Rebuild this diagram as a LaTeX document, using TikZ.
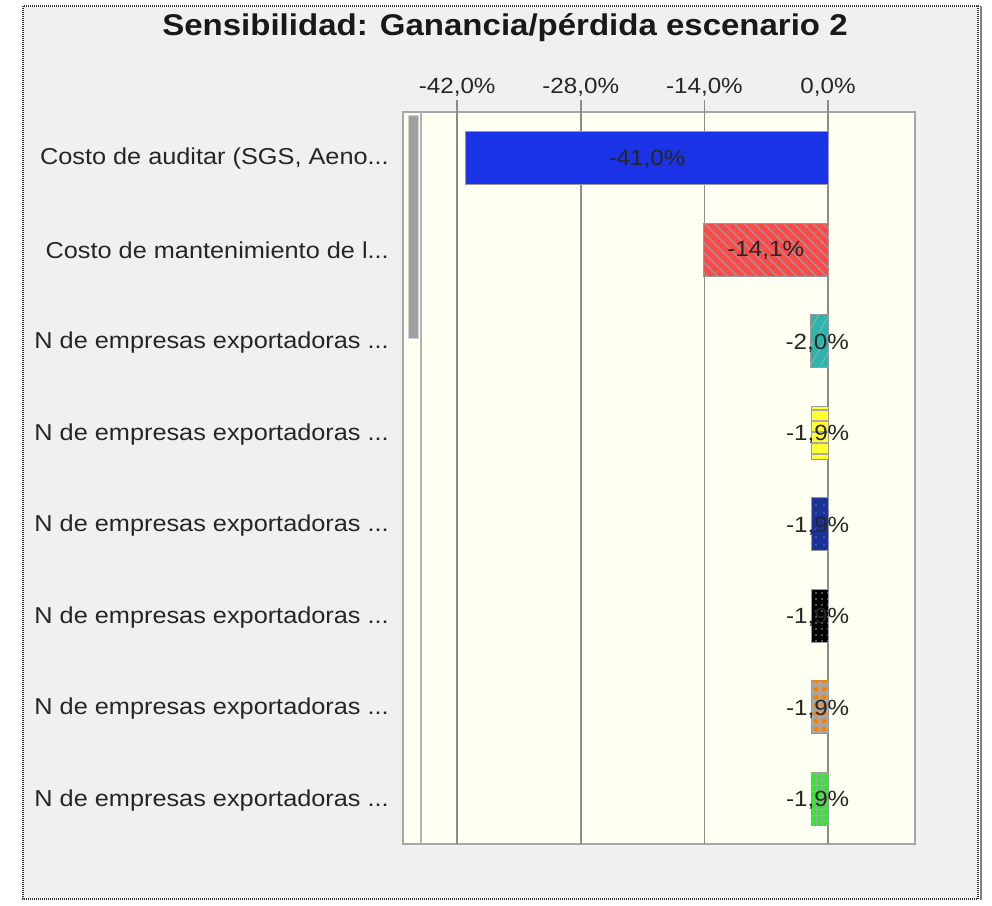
\documentclass[tikz,border=0pt]{standalone}
\usepackage{fontspec}
\setmainfont{Liberation Sans}[FakeStretch=1.1]
\usetikzlibrary{positioning, patterns, patterns.meta}
\definecolor{panel}{HTML}{F0F0F0}
\definecolor{ivory}{HTML}{FFFFF2}
\definecolor{gridgray}{HTML}{8C8C8C}
\definecolor{barblue}{HTML}{1A33E6}
\definecolor{barred}{HTML}{FF4848}
\definecolor{barteal}{HTML}{2CB5AD}
\definecolor{baryellow}{HTML}{FFFF33}
\definecolor{barnavy}{HTML}{1A3399}
\definecolor{barorange}{HTML}{FF8000}
\definecolor{bargreen}{HTML}{33E633}
\def\xz{828}   % x of 0,0%
\def\ppc{8.83} % px per percent

\begin{document}
\begin{tikzpicture}[x=1pt, y=-1pt,
  txt/.style={font=\fontsize{22}{26}\selectfont, text=black!85, inner sep=0pt},
  catlabel/.style={txt, font=\fontsize{23}{27}\selectfont, anchor=east},
  gridline/.style={draw=gridgray, line width=1.5pt},
  barbox/.style={draw=gray!80, line width=1pt},
  redbar/.style={barbox, fill=barred, postaction={pattern={Lines[angle=-45, distance=7pt, line width=1.3pt]}, pattern color=gray!80}},
  tealbar/.style={barbox, fill=barteal, postaction={pattern={Lines[angle=60, distance=9pt, line width=0.6pt]}, pattern color=gray!60}},
  yellowbar/.style={barbox, fill=baryellow, postaction={pattern={Lines[angle=0, distance=11pt, line width=1.2pt]}, pattern color=gray!70}},
  navybar/.style={barbox, fill=barnavy, postaction={pattern={Dots[distance=8pt, radius=0.6pt]}, pattern color=gray!60}},
  blackbar/.style={barbox, fill=black, postaction={pattern={Dots[distance=6pt, radius=0.8pt]}, pattern color=gray!70}},
  orangebar/.style={barbox, fill=gray!70, postaction={pattern={Dots[distance=8pt, radius=2.6pt]}, pattern color=barorange}},
  greenbar/.style={barbox, fill=bargreen, postaction={pattern={Hatch[distance=6pt, line width=1pt]}, pattern color=gray!70}},
]
  % frame
  \useasboundingbox (0,0) rectangle (992,905);
  \fill[white] (0,0) rectangle (992,905);
  \draw[gray!40!black, line width=2.5pt, dash pattern=on 1pt off 1pt, fill=panel] (23,6) rectangle (978,899);
  \draw[gray, line width=2pt] (981,6) -- (981,900);
  \node[font=\bfseries\fontsize{30}{34}\selectfont, text=black!90] (title) at (505,28) {Sensibilidad: Ganancia/pérdida escenario 2};

  % plot area + scroll bar
  \draw[draw=gray!70, line width=1.5pt, fill=ivory] (403,112) rectangle (915,844);
  \draw[gridline, draw=gray!60] (421,112) -- (421,844);
  \draw[fill=gray!75, draw=gray!35] (408,115) rectangle (418,338);

  % grid and ticks
  \foreach \v/\lab in {-42/{-42,0\%}, -28/{-28,0\%}, -14/{-14,0\%}, 0/{0,0\%}} {
    \draw[gridline] ({\xz+(\v)*\ppc},100) -- ({\xz+(\v)*\ppc},844);
    \node[txt] (tick\v) at ({\xz+(\v)*\ppc},87) {\lab};
  }

  % big bars
  \draw[barbox, fill=barblue] ({\xz-41*\ppc},131.5) rectangle (\xz,184.5);
  \node[txt] (val1) at ({\xz-20.5*\ppc},159) {-41,0\%};
  \draw[redbar] ({\xz-14.1*\ppc},223) rectangle (\xz,276);
  \node[txt] (val2) at ({\xz-7.05*\ppc},250) {-14,1\%};
  \node[catlabel] (cat1) at (389,159) {Costo de auditar (SGS, Aeno...};
  \node[catlabel] (cat2) at (389,250) {Costo de mantenimiento de l...};

  % small bars
  \foreach \i/\w/\sty/\lab in {2/2.0/tealbar/{-2,0\%}, 3/1.9/yellowbar/{-1,9\%}, 4/1.9/navybar/{-1,9\%},
                               5/1.9/blackbar/{-1,9\%}, 6/1.9/orangebar/{-1,9\%}, 7/1.9/greenbar/{-1,9\%}} {
    \pgfmathsetmacro\yc{158+91.5*\i}
    \draw[\sty] ({\xz-\w*\ppc},\yc-26.5) rectangle (\xz,\yc+26.5);
    \node[txt] (val\i) at ({\xz-0.5*\w*\ppc-2},\yc+2) {\lab};
    \node[catlabel] (cat\i) at (389,\yc+2) {N de empresas exportadoras ...};
  }
\end{tikzpicture}
\end{document}
